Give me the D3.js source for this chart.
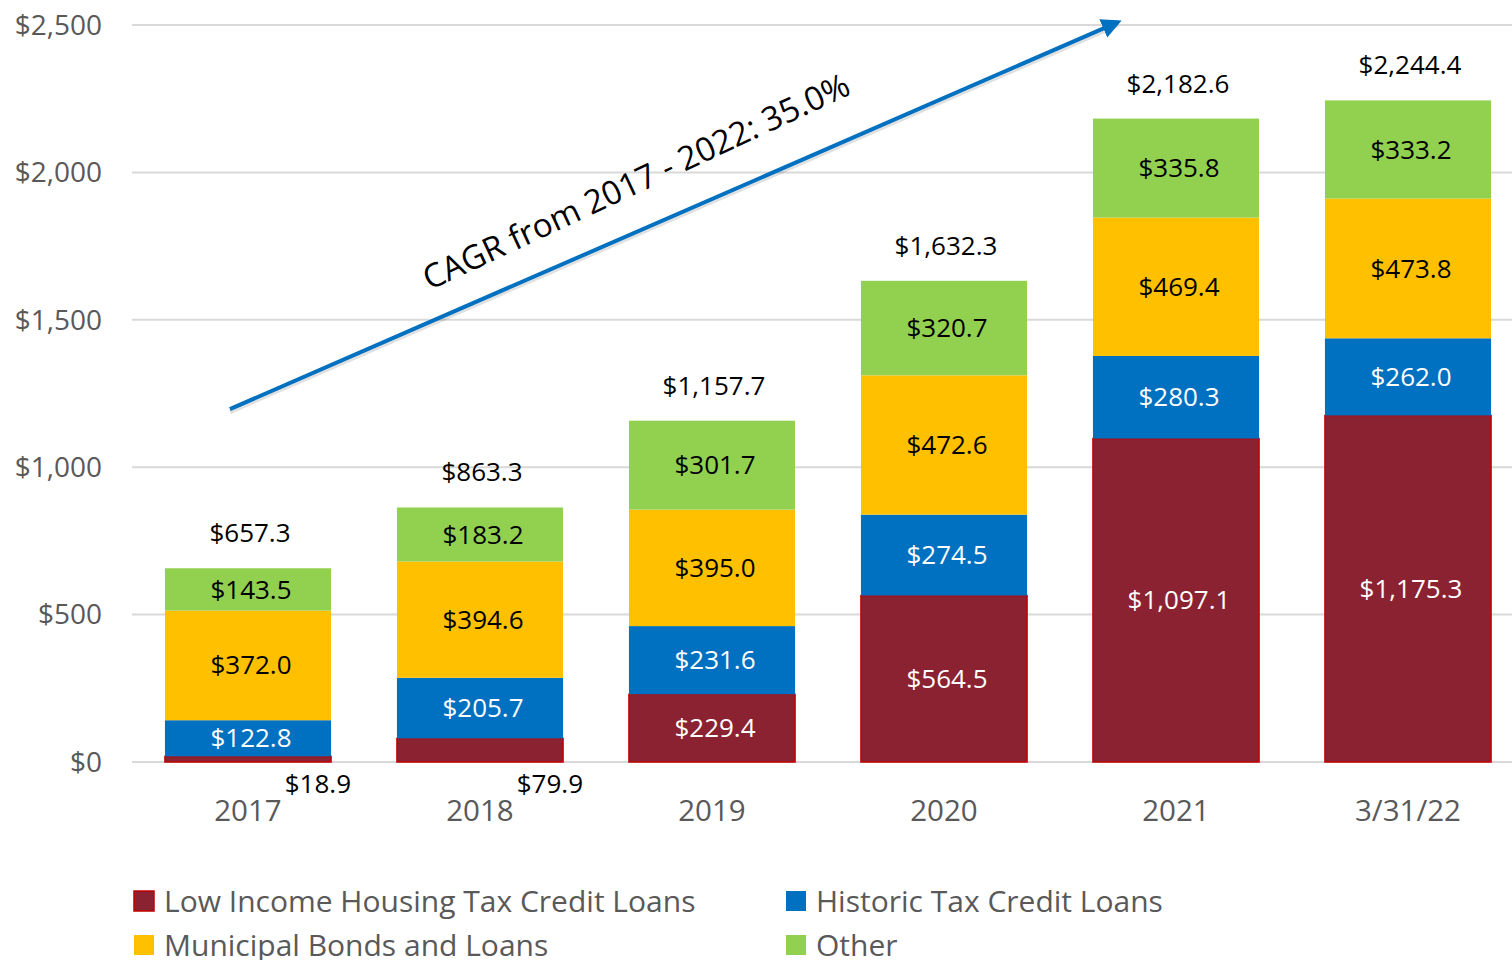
<!DOCTYPE html>
<html>
<head>
<meta charset="utf-8">
<script src="https://cdn.jsdelivr.net/npm/d3@7"></script>
<style>
  body { margin: 0; background: #fff; }
  svg { display: block; font-family: "Open Sans", "Noto Sans", sans-serif; }
</style>
</head>
<body>
<div id="chart"></div>
<script>
// chart data
const categories = ["2017", "2018", "2019", "2020", "2021", "3/31/22"];
const seriesNames = ["Low Income Housing Tax Credit Loans", "Historic Tax Credit Loans", "Municipal Bonds and Loans", "Other"];
const lihtc = [18.9, 79.9, 229.4, 564.5, 1097.1, 1175.3];
const historic = [122.8, 205.7, 231.6, 274.5, 280.3, 262.0];
const municipal = [372.0, 394.6, 395.0, 472.6, 469.4, 473.8];
const other = [143.5, 183.2, 301.7, 320.7, 335.8, 333.2];
const totals = [657.3, 863.3, 1157.7, 1632.3, 2182.6, 2244.4];
const yTicks = [0, 500, 1000, 1500, 2000, 2500];
const cagrText = "CAGR from 2017 - 2022: 35.0%";

const colors = ["#8B2232", "#0070C0", "#FFC000", "#92D050"];
const labelColors = ["#fff", "#fff", "#000", "#000"];

const width = 1512, height = 960;
const svg = d3.select("#chart").append("svg")
    .attr("width", width)
    .attr("height", height);

const x = d3.scaleBand()
    .domain(categories)
    .range([132, 1524])
    .paddingInner(0.284)
    .paddingOuter(0.142);

const y = d3.scaleLinear()
    .domain([0, 2500])
    .range([762, 25]);

// gridlines
svg.append("g")
    .selectAll("line")
    .data(yTicks)
    .enter().append("line")
    .attr("x1", 132)
    .attr("x2", width)
    .attr("y1", d => y(d))
    .attr("y2", d => y(d))
    .attr("stroke", "#D9D9D9")
    .attr("stroke-width", 2);

// y axis labels
const fmtAxis = d => "$" + d3.format(",")(d);
svg.append("g")
    .selectAll("text")
    .data(yTicks)
    .enter().append("text")
    .attr("x", 102)
    .attr("y", d => y(d))
    .attr("dy", "0.35em")
    .attr("text-anchor", "end")
    .attr("font-size", 28)
    .attr("fill", "#595959")
    .text(fmtAxis);

// stacked data
const rows = categories.map((c, i) => ({
    cat: c, s0: lihtc[i], s1: historic[i], s2: municipal[i], s3: other[i]
}));
const stack = d3.stack().keys(["s0", "s1", "s2", "s3"]);
const layers = stack(rows);

const layerG = svg.append("g")
    .selectAll("g")
    .data(layers)
    .enter().append("g")
    .attr("fill", (d, i) => colors[i]);

layerG.selectAll("rect")
    .data(d => d)
    .enter().append("rect")
    .attr("x", d => x(d.data.cat))
    .attr("y", d => y(d[1]))
    .attr("width", x.bandwidth())
    .attr("height", d => y(d[0]) - y(d[1]))
    // red outline on the LIHTC segments
    .attr("stroke", function () { return this.parentNode.__data__.index === 0 ? "#C00000" : "none"; })
    .attr("stroke-width", 1.5);

// segment labels
const fmtVal = d => "$" + d3.format(",.1f")(d);
layers.forEach((layer, li) => {
    svg.append("g")
        .selectAll("text")
        .data(layer)
        .enter().append("text")
        .each(function (d) {
            const v = d[1] - d[0];
            const t = d3.select(this);
            if (v < 100) {
                // small segments: label sits below the bar, to the right
                t.attr("x", x(d.data.cat) + x.bandwidth() + 20)
                    .attr("y", 793)
                    .attr("text-anchor", "end")
                    .attr("fill", "#000");
            } else {
                t.attr("x", x(d.data.cat) + x.bandwidth() / 2 + 3)
                    .attr("y", (y(d[0]) + y(d[1])) / 2)
                    .attr("dy", "0.35em")
                    .attr("text-anchor", "middle")
                    .attr("fill", labelColors[li]);
            }
            t.attr("font-size", 26).text(fmtVal(v));
        });
});

// totals
svg.append("g")
    .selectAll("text")
    .data(categories)
    .enter().append("text")
    .attr("x", d => x(d) + x.bandwidth() / 2 + 2)
    .attr("y", (d, i) => y(totals[i]) - 26)
    .attr("text-anchor", "middle")
    .attr("font-size", 26)
    .attr("fill", "#000")
    .text((d, i) => fmtVal(totals[i]));

// x axis labels
svg.append("g")
    .selectAll("text")
    .data(categories)
    .enter().append("text")
    .attr("x", d => x(d) + x.bandwidth() / 2)
    .attr("y", 821)
    .attr("text-anchor", "middle")
    .attr("font-size", 29.5)
    .attr("fill", "#595959")
    .text(d => d);

// CAGR arrow
const defs = svg.append("defs");
defs.append("marker")
    .attr("id", "arrowhead")
    .attr("viewBox", "0 0 10 10")
    .attr("refX", 8)
    .attr("refY", 5)
    .attr("markerWidth", 5)
    .attr("markerHeight", 5)
    .attr("orient", "auto")
    .append("path")
    .attr("d", "M0,0 L10,5 L0,10 Z")
    .attr("fill", "#0070C0");

const ax1 = x("2017") + 65, ay1 = y(1197);
const ax2 = x("2021") + 25, ay2 = y(2510);
svg.append("line")
    .attr("x1", ax1).attr("y1", ay1 + 3)
    .attr("x2", ax2).attr("y2", ay2 + 3)
    .attr("stroke", "#000")
    .attr("stroke-opacity", 0.12)
    .attr("stroke-width", 4);
svg.append("line")
    .attr("x1", ax1).attr("y1", ay1)
    .attr("x2", ax2).attr("y2", ay2)
    .attr("stroke", "#0070C0")
    .attr("stroke-width", 4)
    .attr("marker-end", "url(#arrowhead)");

svg.append("text")
    .attr("transform", "translate(641,192) rotate(-25)")
    .attr("text-anchor", "middle")
    .attr("font-size", 33)
    .attr("fill", "#000")
    .text(cagrText);

// legend
const legendPos = [[134, 901], [786, 901], [134, 945], [786, 945]];
const legend = svg.append("g")
    .selectAll("g")
    .data(seriesNames)
    .enter().append("g")
    .attr("transform", (d, i) => `translate(${legendPos[i][0]},${legendPos[i][1]})`);
legend.append("rect")
    .attr("x", 0)
    .attr("y", -10)
    .attr("width", 20)
    .attr("height", 20)
    .attr("fill", (d, i) => colors[i])
    .attr("stroke", (d, i) => i === 0 ? "#C00000" : "none")
    .attr("stroke-width", 1.5);
legend.append("text")
    .attr("x", 30)
    .attr("y", 0)
    .attr("dy", "0.35em")
    .attr("font-size", 30)
    .attr("fill", "#595959")
    .text(d => d);
</script>
</body>
</html>
